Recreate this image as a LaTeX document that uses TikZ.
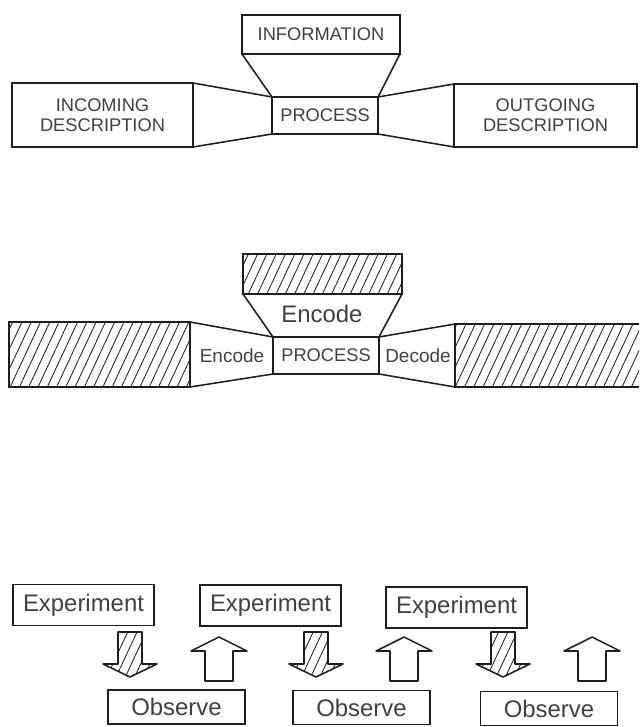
\documentclass[tikz,border=0pt]{standalone}
\usepackage{fontspec}
\setmainfont{Liberation Sans}
\usetikzlibrary{patterns.meta}

\definecolor{ink}{HTML}{1E1E1E}
\definecolor{pencil}{HTML}{404040}

\begin{document}
\begin{tikzpicture}[
        % 全局設定:1 單位 = 1 像素,y 向下
        x=0.025cm, y=-0.025cm,
        % 方框樣式
        box/.style={
            draw=ink,
            line width=1.1pt,
            inner sep=0pt,
            outer sep=0pt,
            text=pencil,
            align=center
        },
        % 方框尺寸 (像素)
        dims/.style 2 args={
            minimum width=#1*0.025cm,
            minimum height=#2*0.025cm
        },
        % 斜線填充
        hatched/.style={
            pattern={Lines[angle=65, distance=0.21cm, line width=0.6pt]},
            pattern color=ink
        },
        % 連接線
        edge/.style={
            draw=ink,
            line width=1.1pt
        },
        % 字體
        caps/.style={font=\fontsize{13}{14.5}\selectfont},
        hand/.style={font=\fontsize{17}{19}\selectfont},
        small_hand/.style={font=\fontsize{13.5}{15}\selectfont},
        % 箭頭
        down_arrow/.style={draw=ink, line width=1.1pt, hatched, line join=round},
        up_arrow/.style={draw=ink, line width=1.1pt, fill=white, line join=round}
    ]
        \useasboundingbox (0,0) rectangle (639,727);

        % ==========================
        % 上圖:描述的處理
        % ==========================
        % 1. 方框
        \node[box, caps, dims={158}{39}] (info) at (321,34.5) {INFORMATION};
        \node[box, caps, dims={106}{37}] (procA) at (325,115.5) {PROCESS};
        \node[box, caps, dims={181}{64}] (inc) at (102.5,115) {INCOMING\\DESCRIPTION};
        \node[box, caps, dims={183}{63}] (out) at (545.5,115.5) {OUTGOING\\DESCRIPTION};

        % 2. 漏斗形連接
        \draw[edge] (info.south west) -- (procA.north west);
        \draw[edge] (info.south east) -- (procA.north east);
        \draw[edge] (inc.north east) -- (procA.north west);
        \draw[edge] (inc.south east) -- (procA.south west);
        \draw[edge] (procA.north east) -- (out.north west);
        \draw[edge] (procA.south east) -- (out.south west);

        % ==========================
        % 中圖:編碼與解碼
        % ==========================
        % 1. 方框 (斜線為未知內容)
        \node[box, hatched, dims={159}{40}] (key) at (322.5,274) {};
        \node[box, caps, dims={106}{37}] (procB) at (326,355.5) {PROCESS};
        \node[box, hatched, dims={181}{65}] (src) at (99.5,354.5) {};
        \node[hatched, inner sep=0pt, outer sep=0pt, dims={184}{63}] (dst) at (547,355.5) {};
        \draw[edge] (dst.north east) -- (dst.north west) -- (dst.south west) -- (dst.south east);

        % 2. 漏斗形連接
        \draw[edge] (key.south west) -- (procB.north west);
        \draw[edge] (key.south east) -- (procB.north east);
        \draw[edge] (src.north east) -- (procB.north west);
        \draw[edge] (src.south east) -- (procB.south west);
        \draw[edge] (procB.north east) -- (dst.north west);
        \draw[edge] (procB.south east) -- (dst.south west);

        % 3. 標籤
        \node[hand, text=pencil] (encTop) at (322,314) {Encode};
        \node[small_hand, text=pencil] (encLeft) at (232,356) {Encode};
        \node[small_hand, text=pencil] (decRight) at (418,356) {Decode};

        % ==========================
        % 下圖:實驗與觀察
        % ==========================
        % 1. 實驗方框
        \foreach \i/\x/\y in {1/83.5/605, 2/270.5/605.5, 3/456.5/607.5} {
            \node[box, hand, dims={141}{41}] (exp\i) at (\x,\y) {Experiment};
        }

        % 2. 觀察方框
        \foreach \i/\x/\y in {1/176.5/707, 2/361.5/707.5, 3/549/708.5} {
            \node[box, hand, dims={137}{34}] (obs\i) at (\x,\y) {Observe};
        }

        % 3. 向下箭頭 (斜線)
        \foreach \c in {130,316,503} {
            \draw[down_arrow] (\c-12,632) -- (\c+12,632) -- (\c+12,664) -- (\c+27,664)
                -- (\c,677) -- (\c-27,664) -- (\c-12,664) -- cycle;
        }

        % 4. 向上箭頭 (空心)
        \foreach \c in {219,404,592} {
            \draw[up_arrow] (\c-14,681) -- (\c-14,651) -- (\c-28,651) -- (\c,637)
                -- (\c+28,651) -- (\c+14,651) -- (\c+14,681) -- cycle;
        }
\end{tikzpicture}
\end{document}
